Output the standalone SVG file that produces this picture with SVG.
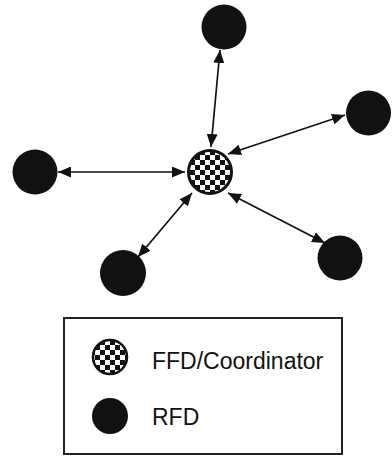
<svg xmlns="http://www.w3.org/2000/svg" width="392" height="457" viewBox="0 0 392 457">
<style>
.rfd{fill:#111}
.ffd{fill:url(#chk);stroke:#111;stroke-width:3}
.link{stroke:#111;stroke-width:1.7;fill:none;marker-start:url(#ah);marker-end:url(#ah)}
.lbl{font-family:"Liberation Sans",Arial,sans-serif;font-size:23px;fill:#111}
</style>
<defs>
<pattern id="chk" patternUnits="userSpaceOnUse" x="0" y="0" width="10" height="10">
<rect width="10" height="10" fill="#fff"/>
<rect x="0" y="0" width="5" height="5" fill="#111"/>
<rect x="5" y="5" width="5" height="5" fill="#111"/>
</pattern>
<marker id="ah" viewBox="0 0 13 11" refX="13" refY="5.5" markerWidth="13" markerHeight="11" markerUnits="userSpaceOnUse" orient="auto-start-reverse">
<path d="M0,0 L13,5.5 L0,11 Z" fill="#111"/>
</marker>
</defs>
<g id="connectors">
<line class="link" x1="211" y1="147" x2="220" y2="50"/>
<line class="link" x1="228" y1="154" x2="345" y2="115"/>
<line class="link" x1="185" y1="172" x2="58" y2="172"/>
<line class="link" x1="192" y1="193" x2="138" y2="257"/>
<line class="link" x1="228" y1="193" x2="325" y2="243"/>
</g>
<g id="coordinator"><circle class="ffd" cx="210" cy="172" r="21.5"/></g>
<g id="rfd-top"><circle class="rfd" cx="224" cy="27" r="22.5"/></g>
<g id="rfd-right"><circle class="rfd" cx="368.5" cy="113" r="22.5"/></g>
<g id="rfd-left"><circle class="rfd" cx="35" cy="172" r="22.5"/></g>
<g id="rfd-bottom-left"><circle class="rfd" cx="123" cy="273" r="23"/></g>
<g id="rfd-bottom-right"><circle class="rfd" cx="340" cy="258" r="22.5"/></g>
<g id="legend">
<rect x="64" y="318" width="278" height="136" fill="#fff" stroke="#222" stroke-width="2"/>
<circle cx="110" cy="357" r="17" fill="url(#chk)" stroke="#111" stroke-width="2.5"/>
<text class="lbl" x="152" y="369">FFD/Coordinator</text>
<circle class="rfd" cx="110" cy="416" r="18"/>
<text class="lbl" x="152" y="425">RFD</text>
</g>
</svg>
